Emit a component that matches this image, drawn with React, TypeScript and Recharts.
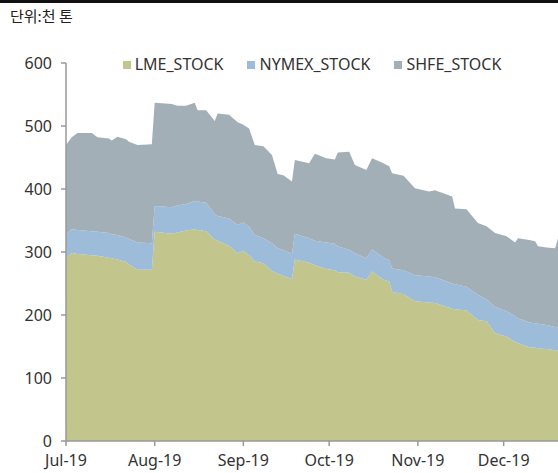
import React from 'react';
import { AreaChart, Area, XAxis, YAxis, Legend } from 'recharts';

// days counted from 1 Jul 2019
const days = [
  0, 2, 4, 9, 11, 15, 16, 18, 21, 22, 25, 30, 31, 37, 39, 42, 45, 46, 49, 52,
  53, 57, 60, 62, 64, 66, 69, 72, 74, 76, 79, 80, 85, 87, 91, 94, 95, 99, 101, 105,
  107, 111, 113, 114, 118, 122, 127, 129, 135, 136, 140, 144, 147, 150, 154, 157, 158, 162, 164, 165,
  168, 171, 172,
];
const lmeStock = [
  290, 299, 297, 295, 294, 291, 290, 288, 284, 280, 272, 272, 332, 329, 331, 334, 336, 335, 333, 320,
  318, 310, 298, 302, 295, 285, 282, 270, 266, 262, 257, 288, 283, 279, 273, 271, 268, 267, 261, 256,
  269, 256, 253, 237, 233, 222, 220, 219, 210, 209, 207, 192, 190, 171, 166, 157, 155, 149, 148, 147,
  146, 144, 143,
];
const nymexStock = [
  37, 37, 38, 38, 38, 39, 38, 39, 39, 41, 43, 42, 41, 42, 43, 42, 45, 45, 45, 40,
  39, 43, 45, 45, 45, 42, 40, 44, 40, 41, 40, 41, 39, 39, 42, 42, 41, 36, 37, 34,
  35, 35, 34, 37, 38, 41, 41, 41, 40, 40, 38, 40, 35, 42, 40, 41, 40, 39, 39, 39,
  38, 37, 37,
];
const shfeStock = [
  143, 146, 154, 156, 150, 150, 149, 156, 156, 154, 155, 157, 164, 164, 158, 156, 156, 145, 147, 148,
  163, 165, 163, 155, 156, 143, 146, 140, 118, 119, 115, 117, 119, 138, 134, 134, 149, 156, 140, 140,
  145, 150, 149, 151, 150, 138, 135, 138, 138, 120, 123, 114, 116, 117, 119, 117, 127, 131, 130, 123,
  123, 125, 142,
];

const monthTicks = [0, 31, 62, 92, 123, 153];
const monthLabels = ['Jul-19', 'Aug-19', 'Sep-19', 'Oct-19', 'Nov-19', 'Dec-19'];
const yTicks = [0, 100, 200, 300, 400, 500, 600];

const series = [
  { key: 'lme', name: 'LME_STOCK', color: '#c2c68c' },
  { key: 'nymex', name: 'NYMEX_STOCK', color: '#9dbcd9' },
  { key: 'shfe', name: 'SHFE_STOCK', color: '#a3afb7' },
];

const data = days.map((day, i) => ({
  day,
  lme: lmeStock[i],
  nymex: nymexStock[i],
  shfe: shfeStock[i],
}));

const font = '"Noto Sans", sans-serif';

const renderLegend = () => (
  <div style={{ display: 'flex', justifyContent: 'center', fontFamily: font, fontSize: 16, color: '#333' }}>
    {series.map((s) => (
      <div key={s.key} style={{ display: 'flex', alignItems: 'center', margin: '0 12px' }}>
        <span style={{ width: 8, height: 8, background: s.color, marginRight: 4, marginTop: 2 }} />
        <span>{s.name}</span>
      </div>
    ))}
  </div>
);

export default function App() {
  return (
    <div style={{ position: 'absolute', left: 0, top: 0, width: 558, height: 473, background: '#fff' }}>
      <div style={{ position: 'absolute', left: 0, top: 0, width: 558, height: 3, background: '#111' }} />
      <div
        style={{
          position: 'absolute',
          left: 10,
          top: 5,
          fontFamily: '"Noto Sans CJK KR", sans-serif',
          fontSize: 15,
          color: '#222',
        }}
      >
        단위:천 톤
      </div>
      <AreaChart width={558} height={473} data={data} margin={{ top: 63, right: 0, bottom: 2, left: 0 }}>
        <XAxis
          dataKey="day"
          type="number"
          domain={[0, 172]}
          ticks={monthTicks}
          tickFormatter={(v: number) => monthLabels[monthTicks.indexOf(v)]}
          height={30}
          stroke="#999"
          strokeWidth={1.5}
          tickSize={5}
          tickMargin={9}
          tick={{ fill: '#333', fontSize: 16, fontFamily: font }}
        />
        <YAxis
          domain={[0, 600]}
          ticks={yTicks}
          width={66}
          stroke="#999"
          strokeWidth={1.5}
          tickSize={5}
          tickMargin={9}
          tick={{ fill: '#333', fontSize: 16, fontFamily: font }}
        />
        <Legend
          layout="horizontal"
          verticalAlign="middle"
          align="center"
          content={renderLegend}
          wrapperStyle={{ top: 53, left: 66, width: 492 }}
        />
        {series.map((s) => (
          <Area
            key={s.key}
            type="linear"
            dataKey={s.key}
            name={s.name}
            stackId="1"
            stroke="none"
            fill={s.color}
            fillOpacity={1}
            isAnimationActive={false}
          />
        ))}
      </AreaChart>
    </div>
  );
}
